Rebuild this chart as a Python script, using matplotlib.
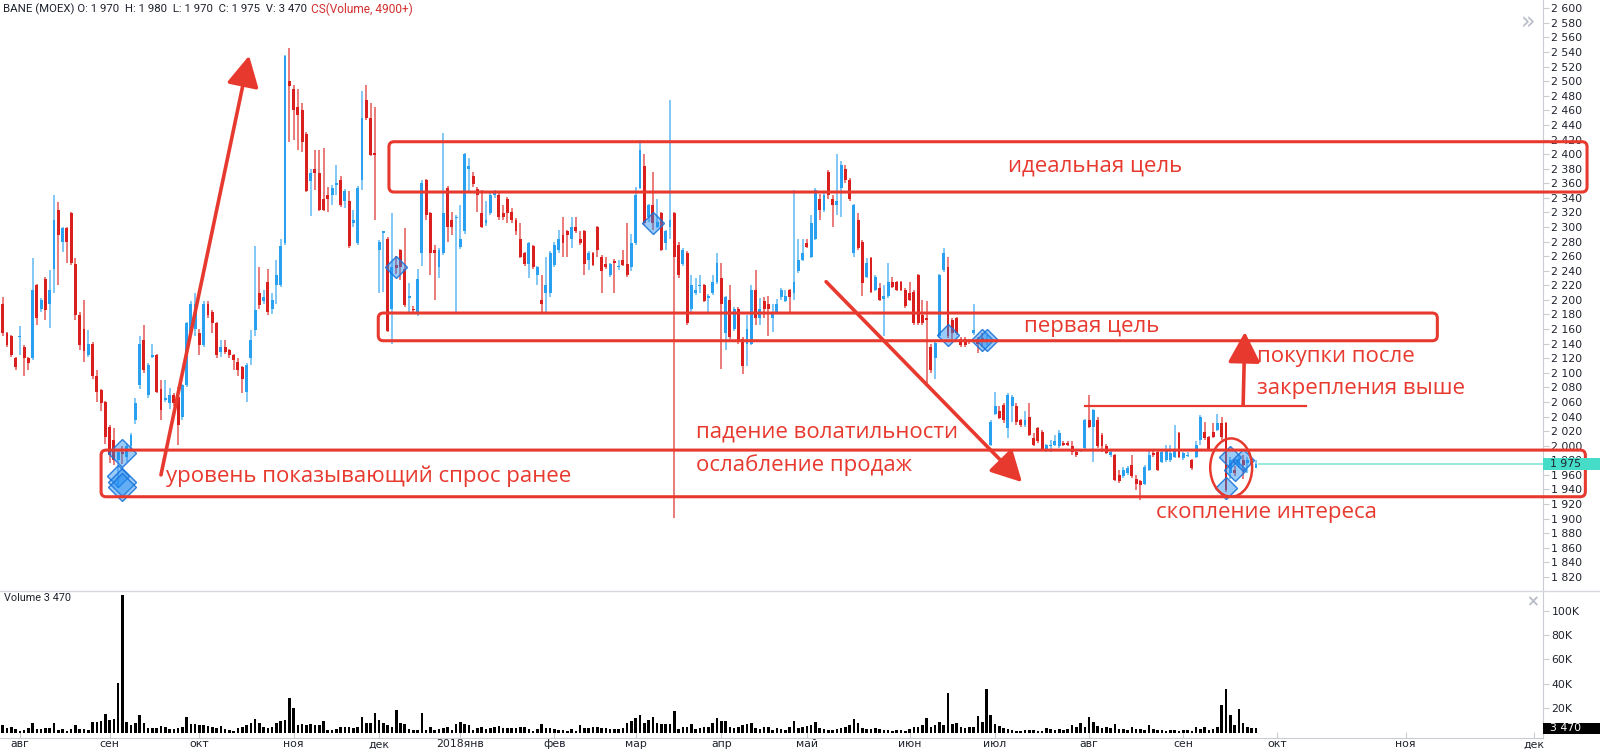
import matplotlib
matplotlib.use("Agg")
import matplotlib.pyplot as plt
from matplotlib.patches import Rectangle, FancyBboxPatch, Ellipse, FancyArrowPatch, BoxStyle, ArrowStyle
from matplotlib.lines import Line2D
from matplotlib.transforms import blended_transform_factory
import numpy as np

# ---------------- data ----------------
opens = [2195,2154,2150,2120,2149,2136,2120,2120,2220,2188,
         2229,2195,2243,2323,2280,2298,2319,2249,2179,2160,
         2124,2140,2095,2076,2060,2026,2008,1980,1992,1985,
         1999,2035,2083,2145,2069,2122,2124,2078,2063,2058,
         2069,2067,2040,2083,2154,2160,2154,2138,2195,2184,
         2168,2129,2136,2131,2124,2115,2108,2074,2120,2159,
         2209,2198,2225,2188,2220,2220,2278,2500,2489,2464,
         2460,2428,2363,2379,2374,2339,2344,2344,2358,2364,
         2335,2335,2305,2278,2364,2474,2449,2401,2268,2292,
         2284,2188,2248,2268,2243,2202,2188,2181,2264,2364,
         2319,2269,2245,2264,2354,2310,2312,2273,2294,2379,
         2370,2352,2319,2305,2319,2344,2344,2319,2339,2320,
         2310,2284,2264,2249,2274,2234,2200,2209,2209,2248,
         2268,2289,2294,2284,2300,2284,2294,2255,2265,2300,
         2259,2249,2234,2254,2245,2255,2249,2245,2278,2354,
         2384,2314,2330,2300,2319,2278,2300,2319,2275,2249,
         2265,2188,2209,2219,2220,2203,2209,2224,2230,2154,
         2200,2160,2188,2147,2140,2140,2214,2175,2199,2195,
         2175,2184,2204,2199,2213,2209,2239,2255,2278,2259,
         2284,2339,2323,2376,2339,2330,2353,2379,2365,2264,
         2310,2280,2232,2257,2214,2216,2201,2205,2225,2224,
         2224,2214,2209,2211,2234,2179,2175,2136,2120,2150,
         2241,2245,2172,2175,2147,2147,2145,2154,2147,2148,
         2143,2001,2044,2047,2056,2024,2054,2054,2035,2028,
         2040,2010,2024,2019,1996,2000,2001,1999,2004,2004,
         1999,1992,1993,1997,2035,2026,2035,2015,1999,1987,
         1987,1960,1958,1962,1974,1955,1951,1948,1967,1990,
         1992,1978,1980,1980,1985,2017,1983,1986,1980,1985,
         2008,2019,2012,2019,2022,2031,2031,1962,1967,1973,
         1980,1976,1978,1970]
highs = [2204,2156,2152,2122,2164,2138,2122,2258,2222,2203,
         2231,2241,2344,2334,2300,2300,2321,2258,2184,2200,
         2159,2142,2104,2078,2062,2028,2024,1996,2000,2002,
         2018,2065,2150,2165,2113,2139,2126,2090,2090,2079,
         2072,2081,2085,2170,2198,2209,2160,2198,2198,2186,
         2170,2145,2145,2133,2126,2120,2110,2113,2159,2274,
         2245,2213,2243,2209,2255,2284,2536,2545,2495,2489,
         2470,2430,2379,2405,2405,2409,2355,2357,2385,2370,
         2352,2350,2323,2356,2486,2495,2470,2465,2282,2295,
         2286,2319,2260,2270,2298,2223,2192,2243,2364,2366,
         2321,2275,2271,2429,2356,2321,2316,2330,2402,2394,
         2375,2355,2351,2335,2346,2351,2350,2330,2341,2326,
         2312,2305,2266,2280,2275,2247,2234,2259,2267,2280,
         2296,2314,2296,2314,2314,2294,2296,2267,2266,2302,
         2261,2259,2251,2256,2255,2269,2305,2291,2355,2419,
         2400,2332,2375,2339,2321,2296,2474,2321,2280,2271,
         2267,2234,2230,2234,2222,2208,2234,2265,2250,2206,
         2220,2190,2190,2149,2179,2220,2241,2202,2204,2205,
         2195,2201,2216,2213,2215,2351,2284,2284,2284,2316,
         2353,2345,2346,2378,2344,2400,2390,2385,2367,2332,
         2319,2282,2257,2259,2234,2223,2220,2250,2232,2226,
         2226,2216,2225,2213,2236,2200,2198,2140,2143,2236,
         2271,2259,2175,2177,2149,2149,2147,2195,2149,2155,
         2152,2035,2074,2054,2058,2072,2069,2058,2037,2047,
         2058,2017,2026,2021,2003,2008,2015,2021,2006,2006,
         2006,1994,1996,2037,2070,2051,2040,2017,2003,1996,
         1989,1967,1971,1972,1987,1960,1953,1973,1994,1994,
         1994,1994,2001,2001,2028,2019,1992,1992,1982,2006,
         2042,2033,2014,2031,2044,2040,2033,1985,1972,1987,
         1987,1985,1982,1980]
lows = [2150,2136,2122,2104,2124,2095,2104,2118,2166,2184,
        2172,2161,2209,2220,2266,2250,2248,2172,2131,2115,
        2122,2091,2060,2047,2003,1976,1973,1942,1975,1978,
        1995,2030,2078,2100,2066,2120,2072,2035,2060,2051,
        2055,2001,2035,2080,2150,2150,2124,2135,2175,2154,
        2120,2122,2126,2120,2104,2095,2072,2060,2111,2150,
        2188,2195,2179,2181,2195,2218,2275,2416,2420,2405,
        2403,2348,2315,2351,2322,2322,2320,2330,2344,2328,
        2326,2271,2300,2276,2351,2447,2397,2310,2209,2211,
        2156,2140,2235,2227,2190,2181,2182,2178,2246,2310,
        2234,2200,2230,2262,2280,2289,2184,2270,2290,2346,
        2355,2321,2298,2302,2316,2340,2310,2310,2306,2305,
        2289,2257,2247,2230,2243,2220,2184,2184,2204,2245,
        2265,2259,2259,2271,2292,2276,2234,2241,2246,2259,
        2210,2243,2232,2210,2241,2246,2232,2239,2276,2352,
        2303,2307,2296,2298,2267,2269,2284,1901,2230,2247,
        2166,2184,2207,2209,2197,2184,2207,2222,2105,2131,
        2147,2158,2140,2099,2109,2138,2166,2166,2175,2150,
        2156,2182,2200,2197,2184,2200,2237,2253,2271,2257,
        2282,2310,2320,2339,2300,2316,2314,2360,2335,2259,
        2269,2205,2230,2209,2212,2198,2150,2203,2216,2212,
        2212,2189,2198,2166,2166,2166,2086,2100,2091,2148,
        2238,2148,2146,2152,2136,2136,2140,2152,2127,2135,
        2138,1999,2042,2036,2031,2010,2033,2028,2026,2026,
        2013,1999,2004,1995,1992,1992,1999,1997,1999,1999,
        1987,1985,1991,1995,2024,1978,1997,1992,1988,1985,
        1951,1949,1956,1960,1956,1939,1926,1946,1965,1985,
        1965,1976,1978,1978,1983,1983,1981,1984,1967,1983,
        2001,2008,1994,2010,2020,2008,1937,1955,1958,1970,
        1955,1962,1972,1970]
closes = [2154,2138,2124,2108,2150,2120,2114,2214,2175,2200,
          2186,2213,2309,2289,2298,2280,2250,2179,2138,2130,
          2140,2095,2074,2058,2012,1987,1980,1992,1988,1999,
          2015,2058,2140,2104,2111,2124,2074,2049,2065,2069,
          2058,2028,2083,2168,2195,2195,2138,2195,2179,2168,
          2124,2136,2129,2124,2117,2104,2092,2111,2145,2186,
          2193,2204,2184,2200,2234,2274,2535,2493,2460,2454,
          2416,2350,2374,2374,2323,2323,2339,2354,2360,2330,
          2350,2274,2310,2354,2449,2449,2399,2399,2280,2294,
          2158,2245,2244,2245,2193,2206,2186,2229,2360,2316,
          2264,2264,2269,2319,2300,2300,2314,2284,2400,2384,
          2359,2344,2300,2310,2344,2350,2314,2314,2319,2310,
          2294,2259,2249,2278,2245,2245,2195,2220,2265,2275,
          2284,2278,2289,2300,2294,2278,2249,2265,2248,2268,
          2240,2245,2249,2251,2247,2248,2234,2278,2344,2406,
          2305,2330,2305,2307,2269,2294,2310,2259,2234,2269,
          2168,2220,2213,2221,2199,2206,2224,2250,2195,2204,
          2149,2188,2145,2109,2160,2214,2175,2188,2188,2188,
          2184,2195,2213,2205,2204,2224,2255,2265,2273,2305,
          2351,2323,2344,2344,2330,2335,2385,2365,2338,2330,
          2271,2223,2250,2211,2232,2200,2205,2225,2218,2214,
          2214,2191,2200,2168,2168,2168,2173,2104,2141,2234,
          2264,2150,2154,2154,2138,2138,2143,2159,2140,2143,
          2146,2033,2054,2038,2035,2070,2067,2033,2028,2035,
          2015,2001,2006,1996,2001,2001,2006,2017,2001,2001,
          1992,1987,1994,2035,2026,2049,1999,1999,1990,1992,
          1953,1951,1967,1969,1958,1948,1946,1971,1987,1987,
          1967,1992,1996,1990,1994,1985,1990,1987,1969,2001,
          2040,2010,1996,2012,2031,2012,1939,1980,1962,1982,
          1973,1980,1975,1975]
volumes_k = [6,4,5,3,1.7,2.2,4,7.7,2.8,3,
             3.6,4,7.7,2.2,3,1.7,3,6.3,2.8,3,
             2.2,9.1,8.5,9.9,15.4,10.5,11.3,41,113,9.1,
             6.3,7.7,14.6,7.7,3.6,3.6,4,5.5,5,3,
             2.8,3.6,5,12.7,7.2,7.2,6,6.3,5.5,5,
             4,5.5,2.8,2,1.4,3.6,5,6,7.7,11,
             7.7,5,4,5,7.7,9.9,10,28.4,20,6.3,
             7,6.3,7,6.3,6.3,9.9,2.2,2.5,2.8,4.4,
             5,4.4,3.6,5,13.2,7.7,7.7,16.5,10.5,7.7,
             6.3,5,18.2,7.7,7,2.8,2.5,2.2,16,2.2,
             5,2.2,3,3.6,5,2.2,7,9.1,7,6.3,
             2.2,3.6,5,2.8,3.5,4.4,5.5,3.6,3.6,3.6,
             4,4.4,5,2.8,1.7,3,7,3.6,3.6,2.8,
             2.5,2.2,1.7,2.8,1.7,6.3,4,3.6,4.4,4.4,
             3.6,3.6,3,2.8,2.8,3.6,7.7,9.9,12,14.6,
             7.7,10.5,12.7,7.7,7,7,7,17.4,2.8,4.4,
             5,7,2.8,3.6,5,5,8,11.8,9.4,9.9,
             5,3.6,4.4,6.3,7,7.7,4,2.8,5,4.4,
             2.2,3.6,3,2.2,4.4,9.9,3.6,4.4,5.5,6,
             8.5,3.6,2.8,2.5,2.2,2.8,3.5,4.4,6,11,
             7.7,3.6,2.8,3,3.6,2.8,2.5,2.2,1.7,2,
             2.2,1.7,3,4.4,5,6,11.8,5,6,9.1,
             6.3,32.5,7.2,7.7,4.4,4,4.4,5,13.8,9.1,
             36,14.6,7.2,5.5,3.6,3,2.2,1.7,1.7,2.2,
             2,2.2,1.7,1.7,3.6,2.8,2.5,2.8,2.2,3,
             6.3,4.4,7.7,5,13.2,9.1,5.5,4,4.4,3.6,
             7.2,2.8,3,2.2,4.4,3,2.8,2.5,6,2.8,
             2.2,2,1.7,2.2,2,1.7,2.2,2,1.7,5,
             3,4.4,2.2,3,4.4,23,36,14.6,6.3,19.3,
             7.7,5,4,3.47]

month_ticks = [4, 25, 46, 68, 88, 107, 129, 148, 168, 188, 212, 232, 254, 276, 298, 328, 358]
month_labels = ["авг", "сен", "окт", "ноя", "дек", "2018янв", "фев", "мар", "апр",
                "май", "июн", "июл", "авг", "сен", "окт", "ноя", "дек"]
price_ticks = list(range(1820, 2601, 20))
volume_ticks = [20, 40, 60, 80, 100]

# CS(Volume, 4900+) markers: bar index and price
diamond_idx = [27, 28, 28, 28, 92, 152, 221, 229, 230, 286, 287, 288, 290]
diamond_price = [1958, 1990, 1950, 1944, 2245, 2305, 2152, 2145, 2145, 1942, 1985, 1967, 1980]

# drawings (bar index / price anchors)
ideal_zone = (90.3, 370.4, 2348, 2417)
first_zone = (87.8, 335.4, 2144, 2182)
demand_zone = (23.0, 370.0, 1930, 1994)
arrow_up_left = ((37.0, 1960), (57.6, 2535))
arrow_down = ((192.5, 2225), (238.3, 1950))
arrow_up_right = ((290.0, 2056), (290.4, 2156))
resistance_line = (253.0, 304.7, 2055)
interest_ellipse = (287.2, 1970, 9.8, 80)
notes = [
    ("идеальная цель", 235.0, 2384),
    ("первая цель", 238.8, 2163),
    ("покупки после", 293.3, 2122),
    ("закрепления выше", 293.3, 2078),
    ("падение волатильности", 162.1, 2019),
    ("ослабление продаж", 162.1, 1974),
    ("уровень показывающий спрос ранее", 38.2, 1958),
    ("скопление интереса", 269.6, 1908),
]

# ---------------- styling ----------------
UP = "#2AA0F0"
DOWN = "#D9201E"
RED = "#E8392F"
GRID = "#c9ccd3"
TXT = "#1e222d"

W, H = 1600, 749
fig = plt.figure(figsize=(16, 7.49), dpi=100)
fig.patch.set_facecolor("white")
AX_W = 1543 / W
ax = fig.add_axes([0, 1 - 591 / H, AX_W, 591 / H])
axv = fig.add_axes([0, 1 - 738 / H, AX_W, (738 - 591) / H], sharex=ax)

N = len(closes)
x = np.arange(N)
o = np.array(opens, float); c = np.array(closes, float)
h = np.array(highs, float); l = np.array(lows, float)
up = c >= o
cols = np.where(up, UP, DOWN)

x_lo, x_hi = -0.63, 360.1
ax.set_xlim(x_lo, x_hi)
ax.set_ylim(1800.7, 2611.4)
axv.set_ylim(-4.34, 116.1)

# candles
ax.vlines(x, l, h, colors=cols, linewidth=1.1, alpha=0.75, zorder=2)
body_lo = np.minimum(o, c)
body_h = np.maximum(np.abs(c - o), 1.5)
ax.bar(x, body_h, bottom=body_lo, width=0.68, color=cols, linewidth=0, zorder=3)

# volume
axv.bar(x, volumes_k, width=0.6, color="black", linewidth=0, zorder=2)

# diamonds
for i, p in zip(diamond_idx, diamond_price):
    ms = 14 if volumes_k[i] > 50 else 11
    ax.plot(i, p, marker="D", ms=ms, mfc=(0.13, 0.55, 0.95, 0.45),
            mec=(0.10, 0.45, 0.85, 0.9), mew=1.0, zorder=4, ls="none")

# axes styling
for a in (ax, axv):
    for s in ("top", "left"):
        a.spines[s].set_visible(False)
    a.spines["right"].set_color(GRID)
    a.spines["right"].set_linewidth(0.8)
    a.yaxis.tick_right()
    a.tick_params(axis="y", direction="out", length=4, width=0.8, color=GRID,
                  pad=2, labelsize=7.8, labelcolor=TXT)
ax.spines["bottom"].set_visible(False)
ax.tick_params(axis="x", bottom=False, labelbottom=False)
ax.set_yticks(price_ticks)
ax.set_yticklabels([f"{v:,}".replace(",", " ") for v in price_ticks])
axv.set_yticks(volume_ticks)
axv.set_yticklabels([f"{v}K" for v in volume_ticks])
axv.spines["bottom"].set_color(GRID)
axv.spines["bottom"].set_linewidth(0.8)
axv.set_xticks(month_ticks)
axv.set_xticklabels(month_labels)
axv.tick_params(axis="x", direction="in", length=4, width=0.8, color=GRID,
                pad=1, labelsize=7.8, labelcolor=TXT)

# pane separator
fig.add_artist(Line2D([0, 1], [1 - 591 / H] * 2, transform=fig.transFigure,
                      color="#d6d8de", lw=1.0))

# last price line + label
last = closes[-1]
ax.plot([N - 1 + 0.6, x_hi], [last, last], color="#8EE8DC", lw=1.3, zorder=2)
bt = blended_transform_factory(ax.transAxes, ax.transData)
ax.add_patch(Rectangle((1.0, last - 8), 60 / 1543, 16, transform=bt,
                       facecolor="#45DCC8", edgecolor="none", clip_on=False, zorder=10))
ax.text(1.0 + 7 / 1543, last, f"{last:,}".replace(",", " "), transform=bt,
        va="center", ha="left", fontsize=7.8, color=TXT, zorder=11, clip_on=False)
btv = blended_transform_factory(axv.transAxes, axv.transData)
vlast = volumes_k[-1]
axv.add_patch(Rectangle((1.0, vlast - 4.6), 60 / 1543, 9.2, transform=btv,
                        facecolor="black", edgecolor="none", clip_on=False, zorder=10))
axv.text(1.0 + 7 / 1543, vlast, f"{int(round(vlast * 1000)):,}".replace(",", " "),
         transform=btv, va="center", ha="left", fontsize=7.8, color="white",
         zorder=11, clip_on=False)

# zones
px_per_x = 1543 / (x_hi - x_lo)
px_per_y = 591 / (2611.4 - 1800.7)
aspect = px_per_x / px_per_y
for (x0, x1, lo, hi) in (ideal_zone, first_zone, demand_zone):
    ax.add_patch(FancyBboxPatch((x0, lo), x1 - x0, hi - lo,
                                boxstyle=BoxStyle.Round(pad=0, rounding_size=1.2),
                                mutation_aspect=aspect, fill=False, ec=RED, lw=2.2,
                                clip_on=False, zorder=6))

# arrows
for (a0, a1) in (arrow_up_left, arrow_down, arrow_up_right):
    ax.add_patch(FancyArrowPatch(a0, a1,
                                 arrowstyle=ArrowStyle("-|>", head_length=0.85, head_width=0.45),
                                 mutation_scale=22, lw=2.6, color=RED,
                                 shrinkA=0, shrinkB=0, zorder=7))

rx0, rx1, ry = resistance_line
ax.plot([rx0, rx1], [ry, ry], color=RED, lw=1.6, zorder=6)
ex, ey, ew, eh = interest_ellipse
ax.add_patch(Ellipse((ex, ey), ew, eh, fill=False, ec=RED, lw=1.8, zorder=7))

for s, xi, yp in notes:
    ax.text(xi, yp, s, color=RED, fontsize=16, family="Open Sans",
            va="center", ha="left", zorder=8)

# header
hdr = (f"BANE (MOEX) O: {opens[-1]:,}  H: {highs[-1]:,}  L: {lows[-1]:,}  "
       f"C: {closes[-1]:,}  V: {int(round(volumes_k[-1]*1000)):,}").replace(",", " ")
t1 = fig.text(3 / W, 1 - 9 / H, hdr, fontsize=8.2, color=TXT, va="center", ha="left",
              family="Roboto")
fig.canvas.draw()
bb = t1.get_window_extent()
fig.text((bb.x1 + 4) / W, 1 - 9 / H, "CS(Volume, 4900+)", fontsize=8.6, color="#D32F2F",
         va="center", ha="left", family="Roboto")
fig.text(4 / W, 1 - 598 / H, f"Volume {int(round(vlast*1000)):,}".replace(",", " "),
         fontsize=7.8, color=TXT, va="center", ha="left", family="Roboto")
fig.text(1528 / W, 1 - 23 / H, "»", fontsize=17, color="#b8bcc6", va="center", ha="center")
fig.text(1532 / W, 1 - 602 / H, "×", fontsize=11, color="#b8bcc6", va="center",
         ha="center", fontweight="bold")

fig.savefig("out.png", dpi=100, facecolor="white")
